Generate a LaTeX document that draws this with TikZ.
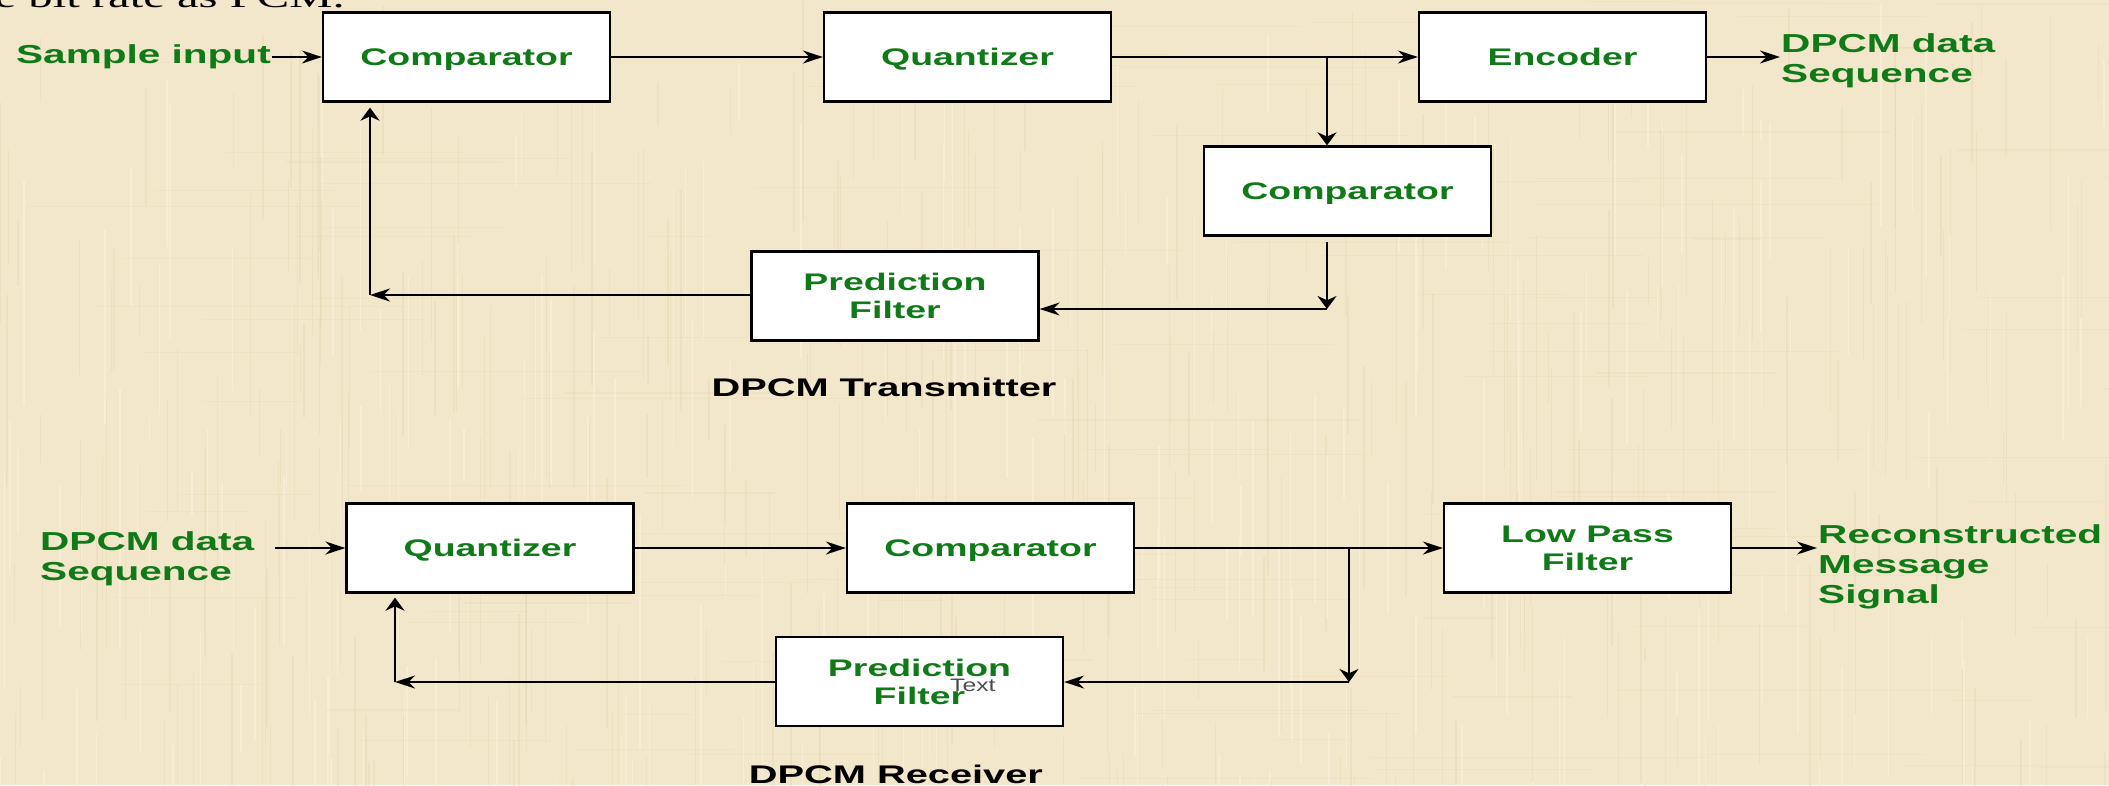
\documentclass[tikz,border=0pt]{standalone}
\usepackage{fontspec}
\usetikzlibrary{arrows.meta}
% wide faces: every glyph in this drawing is stretched sideways
\newfontfamily\boxfont[FakeStretch=1.56]{Liberation Sans Bold}
\newfontfamily\notefont[FakeStretch=1.37]{Liberation Sans}
\newfontfamily\bodyfont[FakeStretch=1.57]{Liberation Serif}
\definecolor{parch}{RGB}{242,231,202}
\definecolor{parchdark}{RGB}{214,196,152}
\definecolor{parchlight}{RGB}{252,246,228}
\definecolor{sigreen}{RGB}{16,122,24}

\begin{document}
\begin{tikzpicture}[x=1pt,y=-1pt,
  blk/.style={draw=black,line width=2.3pt,fill=white,minimum width=287pt,
    minimum height=89pt,inner sep=0pt,align=center,text=sigreen,
    font=\boxfont\fontsize{24}{28}\selectfont},
  oneline/.style={text depth=0pt},
  sig/.style={font=\boxfont\fontsize{26}{30}\selectfont,text=sigreen,
    align=left,inner sep=1pt},
  title/.style={font=\boxfont\fontsize{25.5}{30}\selectfont,text=black},
  wire/.style={line width=2pt,draw=black},
  harr/.style={wire,-{Stealth[length=20pt,width=13pt]}},
  varr/.style={wire,line width=2.6pt,-{Stealth[length=13pt,width=19pt]}},
]
% parchment backdrop
\useasboundingbox (0,0) rectangle (2109,785);
\clip (0,0) rectangle (2109,785);
\fill[parch] (0,0) rectangle (2109,785);
\pgfmathsetseed{7}
\foreach \i in {1,...,320}{
  \pgfmathsetmacro\xx{rnd*2109}
  \pgfmathsetmacro\ya{rnd*785}
  \pgfmathsetmacro\len{40+rnd*220}
  \draw[parchdark,opacity=0.2,line width=1.3pt] (\xx,\ya) -- (\xx,{\ya+\len});
}
\foreach \i in {1,...,220}{
  \pgfmathsetmacro\xx{rnd*2109}
  \pgfmathsetmacro\ya{rnd*785}
  \pgfmathsetmacro\len{40+rnd*220}
  \draw[parchlight,opacity=0.4,line width=1.5pt] (\xx,\ya) -- (\xx,{\ya+\len});
}
\foreach \i in {1,...,120}{
  \pgfmathsetmacro\xx{rnd*2109}
  \pgfmathsetmacro\ya{rnd*785}
  \pgfmathsetmacro\len{60+rnd*300}
  \draw[parchdark,opacity=0.12,line width=1.2pt] (\xx,\ya) -- ({\xx+\len},\ya);
}

% last line of the preceding paragraph
\node[font=\bodyfont\fontsize{31}{36}\selectfont,inner sep=0pt,anchor=base east]
  (head) at (345,7) {e bit rate as PCM.};

% transmitter blocks
\node[blk,oneline] (cmp1) at (466.5,57) {Comparator};
\node[blk,oneline] (qnt1) at (967.5,57) {Quantizer};
\node[blk,oneline] (enc) at (1562.5,57) {Encoder};
\node[blk,oneline] (cmp2) at (1347.5,191) {Comparator};
\node[blk] (pf1) at (895,296) {Prediction\\Filter};

% receiver blocks
\node[blk,oneline] (qnt2) at (490,548) {Quantizer};
\node[blk,oneline] (cmp3) at (990.5,548) {Comparator};
\node[blk] (lpf) at (1587.5,548) {Low Pass\\Filter};
\node[blk] (pf2) at (919.5,681.5) {Prediction\\Filter};
\node[font=\notefont\fontsize{18}{18}\selectfont,text=black!70,inner sep=0pt,
  anchor=base west] (note) at (950,691) {Text};

% signal labels and captions
\node[sig,anchor=east] (in1) at (272,57) {Sample input};
\node[sig,anchor=west] (out1) at (1780,61) {DPCM data\\Sequence};
\node[sig,anchor=west] (in2) at (39,559) {DPCM data\\Sequence};
\node[sig,anchor=west] (out2) at (1817,567) {Reconstructed\\Message\\Signal};
\node[title] (tx) at (884,387) {DPCM Transmitter};
\node[title] (rx) at (896,774) {DPCM Receiver};

% wire corners and branch points
\coordinate (b1) at (1327,57);
\coordinate (k1) at (1327,309);
\coordinate (k2) at (370,295);
\coordinate (s2) at (275,548);
\coordinate (b2) at (1349,548);
\coordinate (k3) at (1349,682);
\coordinate (k4) at (395,682);

% transmitter wiring
\draw[harr] (in1.east) -- (cmp1.west);
\draw[harr] (cmp1) -- (qnt1);
\draw[harr] (qnt1) -- (enc);
\draw[varr] (b1) -- (b1 |- cmp2.north);
\draw[harr] (enc.east) -- (enc.east -| out1.west);
\draw[varr,shorten <=5pt] (k1 |- cmp2.south) -- (k1);
\draw[harr] (k1) -- (k1 -| pf1.east);
\draw[harr] (pf1.west |- k2) -- (k2);
\draw[varr,shorten >=5pt] (k2) -- (k2 |- cmp1.south);

% receiver wiring
\draw[harr] (s2) -- (qnt2.west);
\draw[harr] (qnt2) -- (cmp3);
\draw[harr] (cmp3) -- (lpf);
\draw[varr] (b2) -- (k3);
\draw[harr] (k3) -- (k3 -| pf2.east);
\draw[harr] (pf2.west |- k4) -- (k4);
\draw[varr,shorten >=4pt] (k4) -- (k4 |- qnt2.south);
\draw[harr] (lpf.east) -- (lpf.east -| out2.west);
\end{tikzpicture}
\end{document}
